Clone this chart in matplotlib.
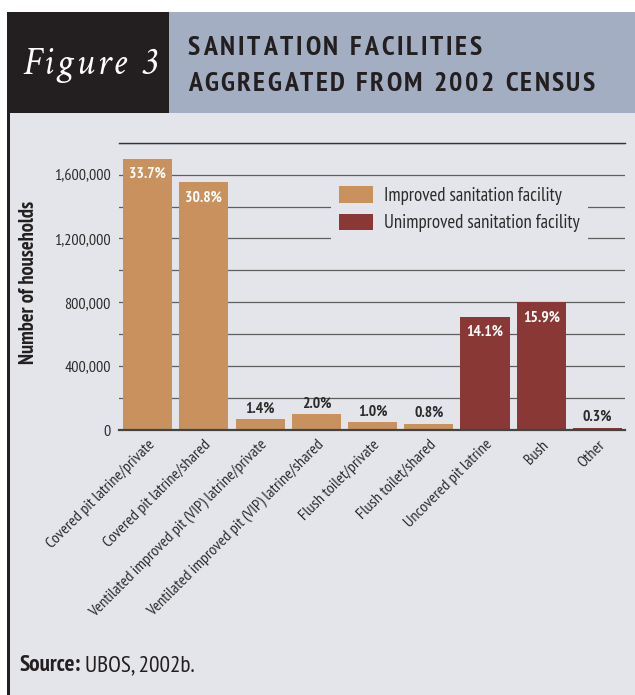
import matplotlib
matplotlib.use('Agg')
import matplotlib.pyplot as plt
import numpy as np
from matplotlib import font_manager
from matplotlib.patches import Rectangle
from matplotlib.transforms import IdentityTransform, ScaledTranslation

# Данные: домохозяйства по типу санитарии (перепись 2002)
categories = [
    'Covered pit latrine/private',
    'Covered pit latrine/shared',
    'Ventilated improved pit (VIP) latrine/private',
    'Ventilated improved pit (VIP) latrine/shared',
    'Flush toilet/private',
    'Flush toilet/shared',
    'Uncovered pit latrine',
    'Bush',
    'Other',
]
households = [1700000, 1552000, 70000, 100000, 50000, 40000, 710000, 800000, 15000]
percents = ['33.7%', '30.8%', '1.4%', '2.0%', '1.0%', '0.8%', '14.1%', '15.9%', '0.3%']
n_improved = 6
legend_labels = ['Improved sanitation facility', 'Unimproved sanitation facility']

# Цвета
IMPROVED = '#c8915d'
UNIMPROVED = '#893835'
BG = '#e4e5ea'
HEADER = '#a4aec3'
BLACK = '#231f20'
TEXT = '#2b2b2b'

# Шрифты: берём первый установленный из списка
names = {f.name for f in font_manager.fontManager.ttflist}


def pick(prefs, default):
    for p in prefs:
        if p in names:
            return p
    return default


SANS = pick(['PT Sans Narrow', 'Fira Sans Condensed', 'Asap Condensed', 'Open Sans Condensed',
             'Roboto Condensed', 'Archivo Narrow', 'Liberation Sans Narrow'], 'DejaVu Sans')
SERIF = pick(['Crimson Text', 'Crimson Pro', 'EB Garamond', 'Cardo', 'Liberation Serif'], 'DejaVu Serif')
plt.rcParams['font.family'] = [SANS, 'DejaVu Sans']

W, H = 635, 695
fig = plt.figure(figsize=(W / 100, H / 100), dpi=100)
fig.patch.set_facecolor('white')
renderer = fig.canvas.get_renderer()


def size_for(text, target, **kw):
    # кегль, при котором текст займёт target пикселей по ширине
    t = fig.text(0, 0, text, size=10, **kw)
    w = t.get_window_extent(renderer).width
    t.remove()
    return 10 * target / w


def rect(x0, y0, x1, y1, color):
    fig.add_artist(Rectangle((x0 / W, 1 - y1 / H), (x1 - x0) / W, (y1 - y0) / H,
                             transform=fig.transFigure, color=color, zorder=0, lw=0))


# Фон и шапка
rect(7, 113, W, H, BG)
rect(7, 113, 9.5, H, BLACK)
rect(7, 12, 169, 113, BLACK)
rect(169, 12, W, 113, HEADER)


def spaced_text(x0, x1, y, s, **kw):
    # текст с разрядкой, растянутый от x0 до x1 (пиксели, y от верха)
    items = []
    size = kw.get('size', 12)
    for ch in s:
        if ch == ' ':
            items.append((None, size * 0.3))
        else:
            t = fig.text(0, 0, ch, transform=IdentityTransform(), ha='left', va='baseline', **kw)
            items.append((t, t.get_window_extent(renderer).width))
    total = sum(w for _, w in items)
    spacing = (x1 - x0 - total) / (len(s) - 1)
    x = x0
    for t, w in items:
        if t is not None:
            t.set_position((x, H - y))
        x += w + spacing


spaced_text(23, 156, 74, 'Figure 3', size=28, style='italic', color='white',
            family=[SERIF, 'DejaVu Serif'])
spaced_text(188, 482, 55, 'SANITATION FACILITIES', size=20, weight='bold', color=BLACK)
spaced_text(188, 595, 91, 'AGGREGATED FROM 2002 CENSUS', size=20, weight='bold', color=BLACK)

# Размеры шрифтов подбираем по ширине текстов на картинке
fs_xtick = size_for(categories[0], 148)
fs_ytick = size_for('1,600,000', 56)
fs_pct = size_for('33.7%', 37, weight='bold')
fs_leg = size_for(legend_labels[0], 178)
fs_ylab = size_for('Number of households', 165, weight='bold')
fs_src = size_for('Source: UBOS, 2002b.', 173)

# Оси
ax = fig.add_axes([119 / W, 1 - 430 / H, 506 / W, 287.3 / H])
ax.set_facecolor('none')
x = np.arange(len(categories))
ax.bar(x[:n_improved], households[:n_improved], width=0.875, color=IMPROVED,
       label=legend_labels[0], zorder=2)
ax.bar(x[n_improved:], households[n_improved:], width=0.875, color=UNIMPROVED,
       label=legend_labels[1], zorder=2)
ax.set_xlim(-0.51, 8.49)
ax.set_ylim(0, 1800000)

ax.set_yticks(np.arange(0, 1600001, 400000))
ax.set_yticks(np.arange(200000, 1800001, 400000), minor=True)
ax.set_yticklabels([f'{v:,}' for v in range(0, 1600001, 400000)])
ax.grid(which='both', axis='y', color='#5e5e5e', lw=0.9, zorder=0)
ax.set_axisbelow(True)
for side in ['left', 'right']:
    ax.spines[side].set_visible(False)
ax.spines['top'].set_color('#333333')
ax.spines['top'].set_linewidth(1.0)
ax.spines['bottom'].set_color('#444444')
ax.spines['bottom'].set_linewidth(1.6)
ax.tick_params(which='both', length=0)
ax.tick_params(axis='y', pad=6, labelsize=fs_ytick, labelcolor=TEXT)

ax.set_xticks(x)
ax.set_xticklabels(categories, rotation=45, ha='right', va='center', rotation_mode='anchor',
                   fontsize=fs_xtick, color=TEXT)
ax.tick_params(axis='x', pad=9)
shift = ScaledTranslation(5 / 100, 0, fig.dpi_scale_trans)
for lab in ax.get_xticklabels():
    lab.set_transform(lab.get_transform() + shift)

# Подписи процентов
for i, (v, p) in enumerate(zip(households, percents)):
    if v > 500000:
        ax.annotate(p, (i, v), xytext=(0, -11), textcoords='offset points',
                    ha='center', va='center', color='white', weight='bold', size=fs_pct)
    else:
        ax.annotate(p, (i, v), xytext=(0, 7.5), textcoords='offset points',
                    ha='center', va='center', color=TEXT, weight='bold', size=fs_pct)

leg = ax.legend(loc='upper left', bbox_to_anchor=(331 / W, 1 - 178 / H),
                bbox_transform=fig.transFigure, frameon=True, facecolor=BG,
                edgecolor='none', framealpha=1, fancybox=False, borderpad=0.45,
                handlelength=1.8, handleheight=1.0, handletextpad=0.6,
                labelspacing=0.45, borderaxespad=0, fontsize=fs_leg)
for t in leg.get_texts():
    t.set_color(TEXT)

fig.text(29 / W, 1 - 282.5 / H, 'Number of households', rotation=90, ha='center',
         va='center', weight='bold', size=fs_ylab, color=BLACK)

# Источник
s1 = fig.text(20, H - 671, 'Source:', transform=IdentityTransform(), ha='left',
              va='baseline', weight='bold', size=fs_src, color=BLACK)
w1 = s1.get_window_extent(renderer).width
fig.text(20 + w1 + 4, H - 671, 'UBOS, 2002b.', transform=IdentityTransform(), ha='left',
         va='baseline', size=fs_src, color=BLACK)

fig.savefig('out.png', dpi=100, facecolor=fig.get_facecolor())
